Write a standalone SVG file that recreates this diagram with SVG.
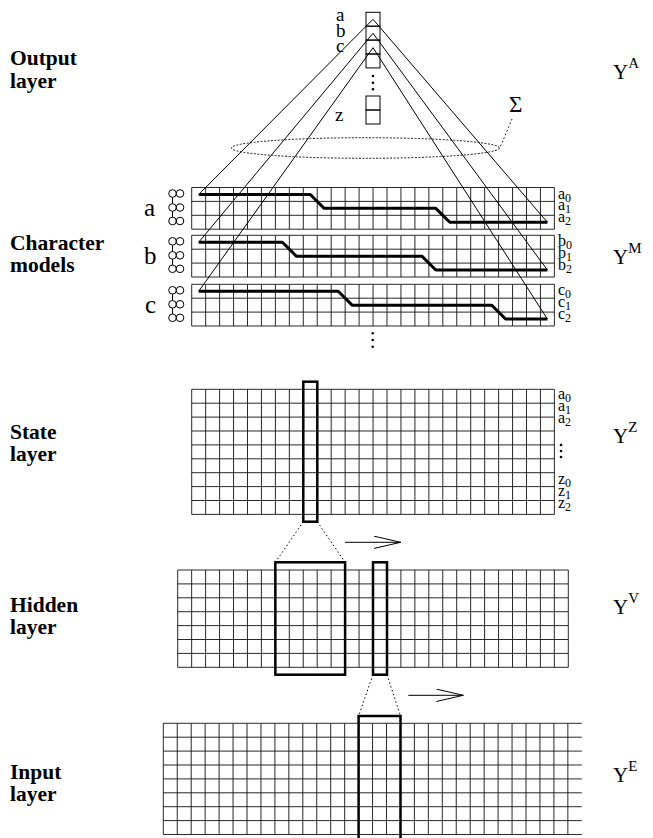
<svg xmlns="http://www.w3.org/2000/svg" xmlns:xlink="http://www.w3.org/1999/xlink" width="653" height="838" viewBox="0 0 653 838">
<style>
.g{fill:none;stroke:#111;stroke-width:0.9}
.thin{fill:none;stroke:#000;stroke-width:1}
.thick{fill:none;stroke:#000;stroke-width:3;stroke-linejoin:round}
.hl{fill:none;stroke:#000;stroke-width:2.5}
.dot{fill:none;stroke:#000;stroke-width:1;stroke-dasharray:1.5,2.5}
.dash{fill:none;stroke:#000;stroke-width:0.9;stroke-dasharray:2,1.5}
.lbl{font-family:"Liberation Serif",serif;font-weight:bold;font-size:21.5px;fill:#000}
.t{font-family:"Liberation Serif",serif;font-size:16px;fill:#000}
.s{font-size:12px}
.y{font-family:"Liberation Serif",serif;font-size:21px;fill:#000}
.sup{font-size:15px}
</style>
<defs>
<path id="gridC" class="g" d="M0,0v41.7m13.95,-41.7v41.7m13.95,-41.7v41.7m13.95,-41.7v41.7m13.95,-41.7v41.7m13.95,-41.7v41.7m13.95,-41.7v41.7m13.95,-41.7v41.7m13.95,-41.7v41.7m13.95,-41.7v41.7m13.95,-41.7v41.7m13.95,-41.7v41.7m13.95,-41.7v41.7m13.95,-41.7v41.7m13.95,-41.7v41.7m13.95,-41.7v41.7m13.95,-41.7v41.7m13.95,-41.7v41.7m13.95,-41.7v41.7m13.95,-41.7v41.7m13.95,-41.7v41.7m13.95,-41.7v41.7m13.95,-41.7v41.7m13.95,-41.7v41.7m13.95,-41.7v41.7m13.95,-41.7v41.7m13.95,-41.7v41.7M0,0h362.7m-362.7,13.9h362.7m-362.7,13.9h362.7m-362.7,13.9h362.7"/>
<path id="gridS" class="g" d="M0,0v125.1m13.95,-125.1v125.1m13.95,-125.1v125.1m13.95,-125.1v125.1m13.95,-125.1v125.1m13.95,-125.1v125.1m13.95,-125.1v125.1m13.95,-125.1v125.1m13.95,-125.1v125.1m13.95,-125.1v125.1m13.95,-125.1v125.1m13.95,-125.1v125.1m13.95,-125.1v125.1m13.95,-125.1v125.1m13.95,-125.1v125.1m13.95,-125.1v125.1m13.95,-125.1v125.1m13.95,-125.1v125.1m13.95,-125.1v125.1m13.95,-125.1v125.1m13.95,-125.1v125.1m13.95,-125.1v125.1m13.95,-125.1v125.1m13.95,-125.1v125.1m13.95,-125.1v125.1m13.95,-125.1v125.1m13.95,-125.1v125.1M0,0h362.7m-362.7,13.9h362.7m-362.7,13.9h362.7m-362.7,13.9h362.7m-362.7,13.9h362.7m-362.7,13.9h362.7m-362.7,13.9h362.7m-362.7,13.9h362.7m-362.7,13.9h362.7m-362.7,13.9h362.7"/>
<path id="gridH" class="g" d="M0,0v97.3m13.95,-97.3v97.3m13.95,-97.3v97.3m13.95,-97.3v97.3m13.95,-97.3v97.3m13.95,-97.3v97.3m13.95,-97.3v97.3m13.95,-97.3v97.3m13.95,-97.3v97.3m13.95,-97.3v97.3m13.95,-97.3v97.3m13.95,-97.3v97.3m13.95,-97.3v97.3m13.95,-97.3v97.3m13.95,-97.3v97.3m13.95,-97.3v97.3m13.95,-97.3v97.3m13.95,-97.3v97.3m13.95,-97.3v97.3m13.95,-97.3v97.3m13.95,-97.3v97.3m13.95,-97.3v97.3m13.95,-97.3v97.3m13.95,-97.3v97.3m13.95,-97.3v97.3m13.95,-97.3v97.3m13.95,-97.3v97.3m13.95,-97.3v97.3m13.95,-97.3v97.3M0,0h390.6m-390.6,13.9h390.6m-390.6,13.9h390.6m-390.6,13.9h390.6m-390.6,13.9h390.6m-390.6,13.9h390.6m-390.6,13.9h390.6m-390.6,13.9h390.6"/>
<path id="gridI" class="g" d="M0,0v111.2m13.95,-111.2v111.2m13.95,-111.2v111.2m13.95,-111.2v111.2m13.95,-111.2v111.2m13.95,-111.2v111.2m13.95,-111.2v111.2m13.95,-111.2v111.2m13.95,-111.2v111.2m13.95,-111.2v111.2m13.95,-111.2v111.2m13.95,-111.2v111.2m13.95,-111.2v111.2m13.95,-111.2v111.2m13.95,-111.2v111.2m13.95,-111.2v111.2m13.95,-111.2v111.2m13.95,-111.2v111.2m13.95,-111.2v111.2m13.95,-111.2v111.2m13.95,-111.2v111.2m13.95,-111.2v111.2m13.95,-111.2v111.2m13.95,-111.2v111.2m13.95,-111.2v111.2m13.95,-111.2v111.2m13.95,-111.2v111.2m13.95,-111.2v111.2m13.95,-111.2v111.2m13.95,-111.2v111.2M0,0h418.5m-418.5,13.9h418.5m-418.5,13.9h418.5m-418.5,13.9h418.5m-418.5,13.9h418.5m-418.5,13.9h418.5m-418.5,13.9h418.5m-418.5,13.9h418.5m-418.5,13.9h418.5"/>
<g id="hmm" class="thin">
<circle cx="0" cy="6" r="3.8"/><circle cx="7.5" cy="6" r="3.8"/>
<circle cx="0" cy="20" r="3.8"/><circle cx="7.5" cy="20" r="3.8"/>
<circle cx="0" cy="33.5" r="3.8"/><circle cx="7.5" cy="33.5" r="3.8"/>
<path d="M0,9.8V16.2M0,23.8V29.7"/>
</g>
<marker id="arr" markerUnits="userSpaceOnUse" markerWidth="30" markerHeight="14" refX="27" refY="6.2" orient="auto">
<path d="M0,0L27,6.2L0,12.4" fill="none" stroke="#000" stroke-width="1"/>
</marker>
</defs>
<rect width="653" height="838" fill="#fff"/>

<g id="output-layer">
<rect class="thin" x="366" y="12.3" width="14" height="13.9"/>
<rect class="thin" x="366" y="26.2" width="14" height="13.9"/>
<rect class="thin" x="366" y="40.1" width="14" height="13.9"/>
<rect class="thin" x="366" y="54" width="14" height="13.9"/>
<circle cx="373" cy="76" r="1.3"/><circle cx="373" cy="82.7" r="1.3"/><circle cx="373" cy="89.3" r="1.3"/>
<rect class="thin" x="366" y="96" width="14" height="14"/>
<rect class="thin" x="366" y="110" width="14" height="14"/>
<text class="t" x="336" y="21" style="font-size:19px">a</text>
<text class="t" x="336" y="36.5" style="font-size:19px">b</text>
<text class="t" x="336" y="51.5" style="font-size:19px">c</text>
<text class="t" x="335" y="120.5" style="font-size:19px">z</text>
<ellipse class="dash" cx="365.5" cy="148" rx="134" ry="10.3"/>
<text class="t" x="509" y="112" style="font-size:23px">Σ</text>
</g>

<g id="character-models">
<use xlink:href="#gridC" x="191.7" y="187.5"/>
<use xlink:href="#gridC" x="191.7" y="235.3"/>
<use xlink:href="#gridC" x="191.7" y="284.3"/>
<use xlink:href="#hmm" x="172.5" y="187.5"/>
<use xlink:href="#hmm" x="172.5" y="235.3"/>
<use xlink:href="#hmm" x="172.5" y="284.3"/>
<path class="thick" d="M198.7,194.45H310.3L324.2,208.35H435.8L449.8,222.25H547.4"/>
<path class="thick" d="M198.7,242.25H282.4L296.3,256.15H421.9L435.8,270.05H547.4"/>
<path class="thick" d="M198.7,291.25H338.2L352.1,305.15H491.6L505.6,319.05H547.4"/>
<text class="t" x="144" y="216" style="font-size:25px">a</text>
<text class="t" x="144" y="264" style="font-size:25px">b</text>
<text class="t" x="145" y="313" style="font-size:25px">c</text>
<text class="t" x="558" y="198.5">a<tspan class="s" dy="3">0</tspan></text>
<text class="t" x="558" y="210.2">a<tspan class="s" dy="3">1</tspan></text>
<text class="t" x="558" y="221.9">a<tspan class="s" dy="3">2</tspan></text>
<text class="t" x="558" y="246.3">b<tspan class="s" dy="3">0</tspan></text>
<text class="t" x="558" y="258">b<tspan class="s" dy="3">1</tspan></text>
<text class="t" x="558" y="269.7">b<tspan class="s" dy="3">2</tspan></text>
<text class="t" x="558" y="295.3">c<tspan class="s" dy="3">0</tspan></text>
<text class="t" x="558" y="307">c<tspan class="s" dy="3">1</tspan></text>
<text class="t" x="558" y="318.7">c<tspan class="s" dy="3">2</tspan></text>
<circle cx="372.7" cy="333.3" r="1.3"/><circle cx="372.7" cy="340" r="1.3"/><circle cx="372.7" cy="346.7" r="1.3"/>
</g>

<g id="state-layer">
<use xlink:href="#gridS" x="191.7" y="389.3"/>
<rect class="hl" x="303.3" y="381.7" width="14" height="140"/>
<text class="t" x="558" y="399.3">a<tspan class="s" dy="3">0</tspan></text>
<text class="t" x="558" y="411">a<tspan class="s" dy="3">1</tspan></text>
<text class="t" x="558" y="422.5">a<tspan class="s" dy="3">2</tspan></text>
<circle cx="561" cy="445" r="1.3"/><circle cx="561" cy="451" r="1.3"/><circle cx="561" cy="457" r="1.3"/>
<text class="t" x="558" y="484">z<tspan class="s" dy="3">0</tspan></text>
<text class="t" x="558" y="496">z<tspan class="s" dy="3">1</tspan></text>
<text class="t" x="558" y="507.5">z<tspan class="s" dy="3">2</tspan></text>
</g>

<g id="hidden-layer">
<use xlink:href="#gridH" x="177.7" y="570"/>
<rect class="hl" x="275.35" y="562.3" width="69.75" height="112.4"/>
<rect class="hl" x="373" y="562.3" width="14" height="112.4"/>
</g>

<g id="input-layer">
<use xlink:href="#gridI" x="163.3" y="723.3"/>
<rect class="hl" x="358.6" y="716" width="41.9" height="140"/>
</g>

<g id="connectors">
<path class="thin" d="M373,19.3L198.7,194.45M373,19.3L547.4,222.25"/>
<path class="thin" d="M373,33.3L198.7,242.25M373,33.3L547.4,270.05"/>
<path class="thin" d="M373,47.7L198.7,291.25M373,47.7L547.4,319.05"/>
<path class="dot" d="M512,119L502,143L499.3,148"/>
<path class="dot" d="M303.3,521.7L275.35,562.3M317.3,521.7L345.1,562.3"/>
<path class="dot" d="M373,674.7L358.6,716M387,674.7L400.5,716"/>
<path class="thin" d="M345,542.3H400.7" marker-end="url(#arr)"/>
<path class="thin" d="M408.3,695.3H463.3" marker-end="url(#arr)"/>
</g>

<g id="labels">
<text class="lbl" x="10" y="64.5">Output</text>
<text class="lbl" x="10" y="87.5">layer</text>
<text class="lbl" x="10" y="250">Character</text>
<text class="lbl" x="10" y="272">models</text>
<text class="lbl" x="10" y="439">State</text>
<text class="lbl" x="10" y="461">layer</text>
<text class="lbl" x="10" y="612">Hidden</text>
<text class="lbl" x="10" y="634">layer</text>
<text class="lbl" x="10" y="779">Input</text>
<text class="lbl" x="10" y="801">layer</text>
<text class="y" x="613" y="79">Y<tspan class="sup" dy="-11">A</tspan></text>
<text class="y" x="613" y="264">Y<tspan class="sup" dy="-11">M</tspan></text>
<text class="y" x="613" y="443">Y<tspan class="sup" dy="-11">Z</tspan></text>
<text class="y" x="613" y="614">Y<tspan class="sup" dy="-11">V</tspan></text>
<text class="y" x="613" y="782">Y<tspan class="sup" dy="-11">E</tspan></text>
</g>
</svg>
